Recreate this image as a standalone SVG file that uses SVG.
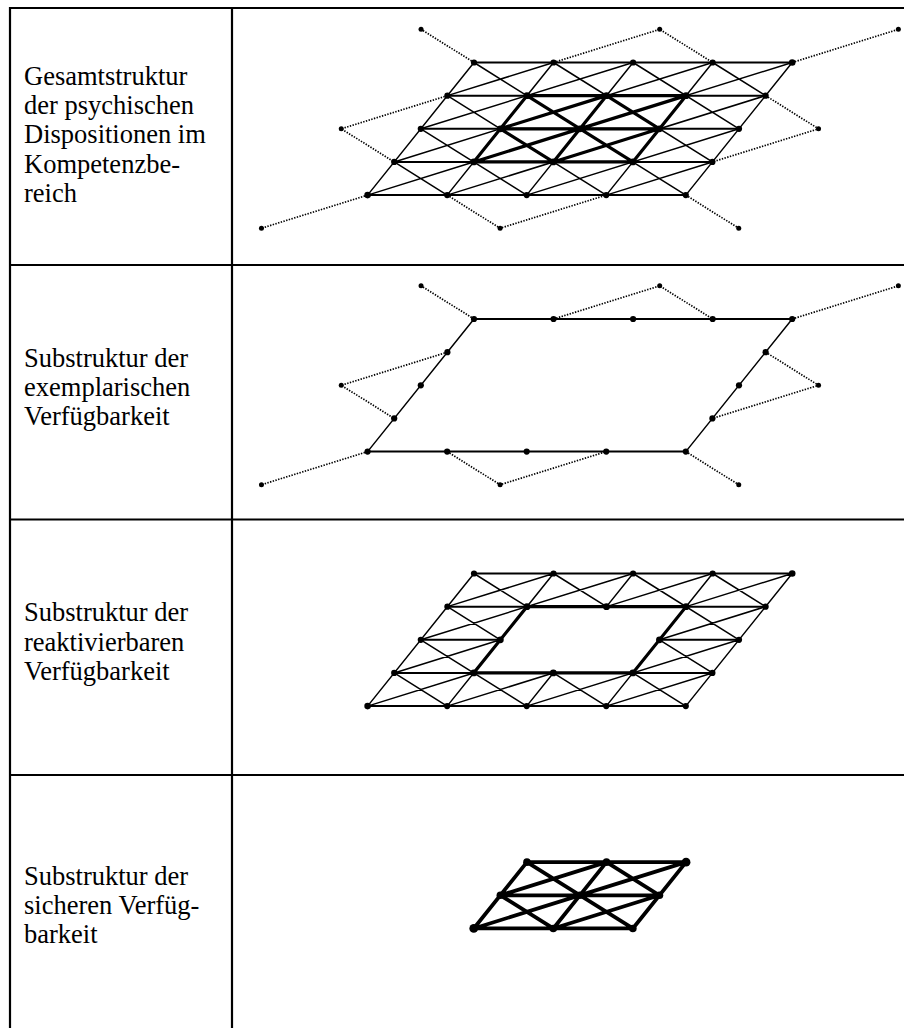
<svg xmlns="http://www.w3.org/2000/svg" xmlns:xlink="http://www.w3.org/1999/xlink" width="904" height="1028" viewBox="0 0 904 1028">
<style>
.bg{fill:#fff}
.b{stroke:#000;stroke-width:2.2;fill:none}
.t{stroke:#000;stroke-width:1.5;fill:none;stroke-linecap:round}
.h{stroke:#000;stroke-width:2;fill:none;stroke-linecap:round}
.k{stroke:#000;stroke-width:3.2;fill:none;stroke-linecap:round}
.kk{stroke:#000;stroke-width:3.8;fill:none;stroke-linecap:round}
.d{stroke:#000;stroke-width:1.7;fill:none;stroke-dasharray:1.4 1.4}
.n{fill:#000}
.lbl{font-family:"Liberation Serif","Times New Roman",serif;font-size:26.5px;fill:#000}
</style>
<defs>
<g id="dotted">
<path class="d" d="M474 62.5L421.05 29.35M553.55 62.5L659.7 29.35L712.65 62.5M792.2 62.5L898.35 29.35M447.4 95.65L341.25 128.8L394.2 161.95M765.6 95.65L818.55 128.8L712.4 161.95M367.6 195.1L261.45 228.25M447.15 195.1L500.1 228.25L606.25 195.1M685.8 195.1L738.75 228.25"/>
<g class="n">
<circle cx="421.05" cy="29.35" r="2.5"/><circle cx="659.7" cy="29.35" r="2.5"/><circle cx="898.35" cy="29.35" r="2.5"/>
<circle cx="341.25" cy="128.8" r="2.5"/><circle cx="818.55" cy="128.8" r="2.5"/>
<circle cx="261.45" cy="228.25" r="2.5"/><circle cx="500.1" cy="228.25" r="2.5"/><circle cx="738.75" cy="228.25" r="2.5"/>
</g>
</g>
<path id="inner" d="M526.95 95.65H686.05M500.35 128.8H659.45M473.75 161.95H632.85M526.95 95.65L473.75 161.95M606.5 95.65L553.3 161.95M686.05 95.65L632.85 161.95M526.95 95.65L632.85 161.95M606.5 95.65L659.45 128.8M500.35 128.8L553.3 161.95M500.35 128.8L606.5 95.65M473.75 161.95L686.05 95.65M553.3 161.95L659.45 128.8"/>
</defs>
<rect class="bg" x="0" y="0" width="904" height="1028"/>

<g id="table">
<path class="b" d="M10 8H904M10 265H904M10 519.5H904M10 775H904M10 7V1028M232 7V1028"/>
</g>

<g id="labels">
<g id="label-gesamt"><text class="lbl" x="24" y="85">Gesamtstruktur</text><text class="lbl" x="24" y="114.2">der psychischen</text><text class="lbl" x="24" y="143.4">Dispositionen im</text><text class="lbl" x="24" y="172.6">Kompetenzbe-</text><text class="lbl" x="24" y="201.8">reich</text></g>
<g id="label-exemplarisch"><text class="lbl" x="24" y="367">Substruktur der</text><text class="lbl" x="24" y="396.2">exemplarischen</text><text class="lbl" x="24" y="425.4">Verfügbarkeit</text></g>
<g id="label-reaktivierbar"><text class="lbl" x="24" y="621">Substruktur der</text><text class="lbl" x="24" y="650.6">reaktivierbaren</text><text class="lbl" x="24" y="680.2">Verfügbarkeit</text></g>
<g id="label-sicher"><text class="lbl" x="24" y="885">Substruktur der</text><text class="lbl" x="24" y="914.2">sicheren Verfüg-</text><text class="lbl" x="24" y="943.4">barkeit</text></g>
</g>

<g id="panel-gesamt">
<use xlink:href="#dotted" href="#dotted"/>
<path class="h" d="M474 62.5H792.2M447.4 95.65H765.6M420.8 128.8H739M394.2 161.95H712.4M367.6 195.1H685.8"/>
<path class="t" d="M474 62.5L367.6 195.1M553.55 62.5L447.15 195.1M633.1 62.5L526.7 195.1M712.65 62.5L606.25 195.1M792.2 62.5L685.8 195.1M474 62.5L685.8 195.1M553.55 62.5L712.4 161.95M633.1 62.5L739 128.8M712.65 62.5L765.6 95.65M447.4 95.65L606.25 195.1M420.8 128.8L526.7 195.1M394.2 161.95L447.15 195.1M447.4 95.65L553.55 62.5M420.8 128.8L633.1 62.5M394.2 161.95L712.65 62.5M367.6 195.1L792.2 62.5M447.15 195.1L765.6 95.65M526.7 195.1L739 128.8M606.25 195.1L712.4 161.95"/>
<use xlink:href="#inner" href="#inner" class="k"/>
<g class="n">
<circle cx="474" cy="62.5" r="3.1"/><circle cx="553.55" cy="62.5" r="3.1"/><circle cx="633.1" cy="62.5" r="3.1"/><circle cx="712.65" cy="62.5" r="3.1"/><circle cx="792.2" cy="62.5" r="3.3"/>
<circle cx="447.4" cy="95.65" r="3.1"/><circle cx="526.95" cy="95.65" r="3.4"/><circle cx="606.5" cy="95.65" r="3.4"/><circle cx="686.05" cy="95.65" r="3.4"/><circle cx="765.6" cy="95.65" r="3.1"/>
<circle cx="420.8" cy="128.8" r="3.1"/><circle cx="500.35" cy="128.8" r="3.4"/><circle cx="579.9" cy="128.8" r="3.4"/><circle cx="659.45" cy="128.8" r="3.4"/><circle cx="739" cy="128.8" r="3.1"/>
<circle cx="394.2" cy="161.95" r="3.1"/><circle cx="473.75" cy="161.95" r="3.4"/><circle cx="553.3" cy="161.95" r="3.4"/><circle cx="632.85" cy="161.95" r="3.4"/><circle cx="712.4" cy="161.95" r="3.1"/>
<circle cx="367.6" cy="195.1" r="3.3"/><circle cx="447.15" cy="195.1" r="3.1"/><circle cx="526.7" cy="195.1" r="3.1"/><circle cx="606.25" cy="195.1" r="3.1"/><circle cx="685.8" cy="195.1" r="3.1"/>
</g>
</g>

<g id="panel-exemplarisch" transform="translate(0 256.5)">
<use xlink:href="#dotted" href="#dotted"/>
<path class="h" d="M474 62.5H792.2M367.6 195.1H685.8"/>
<path class="t" d="M474 62.5L367.6 195.1M792.2 62.5L685.8 195.1"/>
<g class="n">
<circle cx="474" cy="62.5" r="3.1"/><circle cx="553.55" cy="62.5" r="3.1"/><circle cx="633.1" cy="62.5" r="3.1"/><circle cx="712.65" cy="62.5" r="3.1"/><circle cx="792.2" cy="62.5" r="3.1"/>
<circle cx="447.4" cy="95.65" r="3.1"/><circle cx="765.6" cy="95.65" r="3.1"/>
<circle cx="420.8" cy="128.8" r="3.1"/><circle cx="739" cy="128.8" r="3.1"/>
<circle cx="394.2" cy="161.95" r="3.1"/><circle cx="712.4" cy="161.95" r="3.1"/>
<circle cx="367.6" cy="195.1" r="3.1"/><circle cx="447.15" cy="195.1" r="3.1"/><circle cx="526.7" cy="195.1" r="3.1"/><circle cx="606.25" cy="195.1" r="3.1"/><circle cx="685.8" cy="195.1" r="3.1"/>
</g>
</g>

<g id="panel-reaktivierbar" transform="translate(0 511)">
<path class="h" d="M474 62.5H792.2M447.4 95.65H765.6M420.8 128.8H500.35M659.45 128.8H739M394.2 161.95H712.4M367.6 195.1H685.8"/>
<path class="t" d="M474 62.5L367.6 195.1M553.55 62.5L447.15 195.1M633.1 62.5L606.5 95.65M553.3 161.95L526.7 195.1M712.65 62.5L606.25 195.1M792.2 62.5L685.8 195.1M474 62.5L526.95 95.65M632.85 161.95L685.8 195.1M553.55 62.5L606.5 95.65M659.45 128.8L712.4 161.95M633.1 62.5L739 128.8M712.65 62.5L765.6 95.65M447.4 95.65L500.35 128.8M553.3 161.95L606.25 195.1M420.8 128.8L526.7 195.1M394.2 161.95L447.15 195.1M447.4 95.65L553.55 62.5M420.8 128.8L633.1 62.5M394.2 161.95L500.35 128.8M606.5 95.65L712.65 62.5M367.6 195.1L473.75 161.95M686.05 95.65L792.2 62.5M447.15 195.1L553.3 161.95M659.45 128.8L765.6 95.65M526.7 195.1L739 128.8M606.25 195.1L712.4 161.95"/>
<path class="k" d="M526.95 95.65H686.05L632.85 161.95H473.75Z"/>
<g class="n">
<circle cx="474" cy="62.5" r="3.1"/><circle cx="553.55" cy="62.5" r="3.1"/><circle cx="633.1" cy="62.5" r="3.1"/><circle cx="712.65" cy="62.5" r="3.1"/><circle cx="792.2" cy="62.5" r="3.3"/>
<circle cx="447.4" cy="95.65" r="3.1"/><circle cx="526.95" cy="95.65" r="3.4"/><circle cx="606.5" cy="95.65" r="3.4"/><circle cx="686.05" cy="95.65" r="3.4"/><circle cx="765.6" cy="95.65" r="3.1"/>
<circle cx="420.8" cy="128.8" r="3.1"/><circle cx="500.35" cy="128.8" r="3.4"/><circle cx="659.45" cy="128.8" r="3.4"/><circle cx="739" cy="128.8" r="3.1"/>
<circle cx="394.2" cy="161.95" r="3.1"/><circle cx="473.75" cy="161.95" r="3.4"/><circle cx="553.3" cy="161.95" r="3.4"/><circle cx="632.85" cy="161.95" r="3.4"/><circle cx="712.4" cy="161.95" r="3.1"/>
<circle cx="367.6" cy="195.1" r="3.3"/><circle cx="447.15" cy="195.1" r="3.1"/><circle cx="526.7" cy="195.1" r="3.1"/><circle cx="606.25" cy="195.1" r="3.1"/><circle cx="685.8" cy="195.1" r="3.1"/>
</g>
</g>

<g id="panel-sicher" transform="translate(0 766.5)">
<use xlink:href="#inner" href="#inner" class="kk"/>
<g class="n">
<circle cx="526.95" cy="95.65" r="3.8"/><circle cx="606.5" cy="95.65" r="3.8"/><circle cx="686.05" cy="95.65" r="4.4"/>
<circle cx="500.35" cy="128.8" r="3.8"/><circle cx="579.9" cy="128.8" r="3.8"/><circle cx="659.45" cy="128.8" r="3.8"/>
<circle cx="473.75" cy="161.95" r="4.4"/><circle cx="553.3" cy="161.95" r="3.8"/><circle cx="632.85" cy="161.95" r="3.8"/>
</g>
</g>
</svg>
